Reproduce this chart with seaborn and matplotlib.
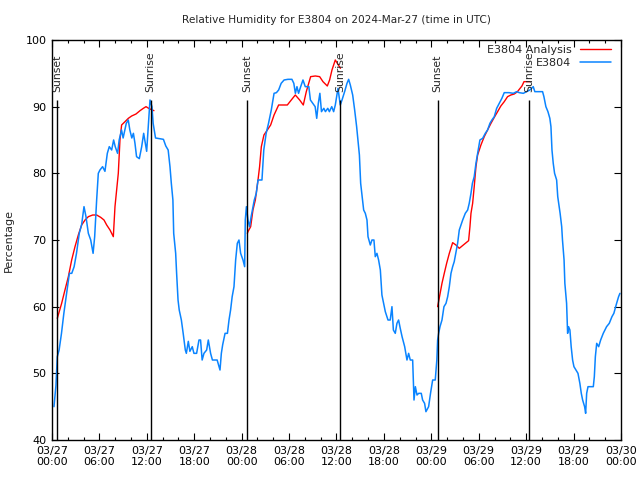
import numpy as np
import pandas as pd
import matplotlib as mpl
mpl.use("Agg")
import matplotlib.pyplot as plt
import matplotlib.dates as mdates
from matplotlib.lines import Line2D
import seaborn as sns

# hours after 2024-03-27 00:00 UTC and relative humidity (%)
obs_hours = [0.25, 0.5, 0.67, 0.9, 1.2, 1.5, 1.85, 2.2, 2.5, 2.8, 3.1, 3.45, 3.75, 4.05, 4.3, 4.6,
             4.9, 5.2, 5.4, 5.65, 5.86, 6.07, 6.4, 6.7, 7.0, 7.25, 7.55, 7.8, 8.0, 8.3, 8.5, 8.8,
             9.0, 9.4, 9.65, 9.85, 10.1, 10.3, 10.5, 10.7, 11.05, 11.35, 11.6, 11.98, 12.15, 12.4,
             12.65, 12.8, 13.1, 14.1, 14.4, 14.7, 14.93, 15.1, 15.3, 15.4, 15.65, 15.77, 15.95,
             16.1, 16.37, 16.6, 16.87, 17.0, 17.25, 17.45, 17.75, 17.96, 18.3, 18.6, 18.8, 19.0,
             19.23, 19.57, 19.78, 20.07, 20.3, 20.9, 21.26, 21.43, 21.6, 21.9, 22.2, 22.4, 22.6,
             22.8, 23.03, 23.24, 23.45, 23.66, 23.87, 24.17, 24.38, 24.46, 24.6, 24.8, 25.0, 25.2,
             25.6, 25.85, 26.07, 26.57, 26.8, 27.1, 27.4, 27.75, 28.1, 28.4, 28.68, 29.0, 29.37,
             29.86, 30.36, 30.6, 30.8, 31.0, 31.2, 31.47, 31.76, 32.05, 32.5, 32.7, 33.0, 33.3,
             33.5, 33.7, 33.9, 34.1, 34.4, 34.6, 34.9, 35.1, 35.4, 35.64, 35.85, 36.19, 36.48,
             36.7, 37.03, 37.33, 37.54, 37.75, 38.05, 38.3, 38.55, 38.72, 38.9, 39.06, 39.2, 39.44,
             39.65, 39.86, 39.99, 40.28, 40.49, 40.74, 40.91, 41.12, 41.33, 41.55, 41.75, 41.97,
             42.18, 42.52, 42.8, 43.02, 43.2, 43.44, 43.65, 43.86, 44.07, 44.3, 44.63, 44.92,
             45.13, 45.34, 45.64, 45.81, 45.98, 46.19, 46.4, 46.73, 46.9, 47.15, 47.32, 47.66,
             47.9, 48.17, 48.5, 48.7, 48.8, 48.93, 49.1, 49.35, 49.6, 49.86, 50.07, 50.28, 50.49,
             50.7, 50.9, 51.1, 51.33, 51.54, 51.75, 51.97, 52.3, 52.6, 52.8, 53.02, 53.2, 53.43,
             53.65, 53.86, 54.15, 54.5, 54.83, 55.12, 55.42, 55.67, 55.97, 56.27, 56.6, 56.93,
             57.23, 57.86, 58.37, 58.8, 59.13, 59.64, 60.06, 60.48, 60.9, 61.1, 61.5, 62.08, 62.25,
             62.5, 62.76, 63.0, 63.14, 63.27, 63.43, 63.6, 63.86, 64.0, 64.3, 64.5, 64.6, 64.8,
             64.9, 65.12, 65.25, 65.37, 65.54, 65.7, 65.88, 66.05, 66.3, 66.56, 66.8, 66.98, 67.15,
             67.4, 67.53, 67.66, 67.83, 68.5, 68.63, 68.76, 68.93, 69.18, 69.43, 69.76, 70.18,
             70.52, 70.86, 71.1, 71.45, 71.7, 71.87]
obs_rh = [45, 48.2, 52.5, 53.5, 56, 59, 62, 65, 65, 66, 68, 71, 72.3, 75, 73.5, 71,
          70, 68, 70.5, 76, 80, 80.5, 81, 80.3, 83, 84, 83.5, 85, 84, 83, 85, 86.5,
          85.3, 87.5, 88, 86.5, 85.3, 86, 84.5, 82.5, 82.2, 84, 86, 83.3, 86.5, 91,
          90, 87.5, 85.3, 85.1, 84.1, 83.5, 81, 78.5, 76, 71, 68, 65, 61,
          59.5, 58, 56, 53.5, 53, 54.8, 53.3, 54, 53, 53, 55, 55, 52,
          53, 53.5, 55, 53, 52, 52, 50.5, 53, 54.3, 56, 56, 58, 59.5,
          61.5, 63, 67, 69.5, 70, 68, 67, 66, 73, 75, 73, 72, 73.5,
          76, 77, 79, 79, 83.5, 86, 87.5, 89.5, 92, 92.1, 92.5, 93.5, 94,
          94.1, 94.1, 93.5, 92, 93, 92, 93, 94, 93, 93, 91, 90.5, 90,
          88.25, 90.5, 92, 89.25, 89.75, 89.25, 89.75, 89.25, 90, 89.25, 90.25, 92.75, 90.25,
          91, 92.25, 93.5, 94.1, 93.25, 91.75, 89.5, 87, 85, 82.75, 78.5, 77, 74.5,
          74, 73, 70.5, 69.25, 70, 70, 67.5, 68, 67, 65.5, 61.75, 60.5,
          59.25, 58, 58, 60, 56.5, 56, 57.5, 58, 56.75, 55.5, 54, 52,
          53, 52, 52, 46, 48, 46.75, 47, 47, 46, 45.5, 44.25, 45,
          47, 49, 49, 52, 55, 56, 57, 58, 60, 60.5, 61.5, 63, 65,
          66, 66.75, 68, 69.5, 71.5, 72.25, 73, 74, 74.5, 75.5, 77, 78.5, 79.5,
          81.5, 83, 85, 85.25, 86, 86.5, 87.5, 88, 88.5, 89.75, 90.5, 91.25,
          92.1, 92.1, 92, 92.25, 92.1, 92, 92.25, 92.5, 93, 92.25, 92.25, 92.25, 91.5,
          90, 89.25, 88.25, 87, 83.5, 81.5, 80, 79, 76.5, 74, 72, 70, 67,
          63.5, 60.5, 56, 57, 56.5, 54, 52, 51, 50.5, 50, 48.5, 47, 46,
          45, 44, 47, 48, 48, 49.5, 52.5, 54.5, 54, 55, 56, 57,
          57.5, 58.5, 59, 60.5, 61.5, 62]

ana_hours = [0.67, 1.22, 1.64, 2.07, 2.49, 2.91, 3.33, 3.75, 4.18, 4.6, 5.15, 5.65, 6.16, 6.58,
             6.92, 7.34, 7.76, 7.97, 8.18, 8.39, 8.6, 8.81, 9.24, 9.66, 10.08, 10.63, 11.14,
             11.56, 11.9, 12.3, 12.9,
             24.72, 24.8, 25.14, 25.43, 25.73, 26.07, 26.27, 26.49, 26.82, 27.25, 27.67, 28.1,
             28.68, 29.78, 30.28, 30.79, 31.34, 31.8, 32.18, 32.73, 33.32, 33.87, 34.29, 34.84,
             35.13, 35.43, 35.85, 36.5,
             48.8, 49.0, 49.35, 49.64, 49.94, 50.28, 50.7, 51.12, 51.54, 52.05, 52.72, 52.89,
             53.02, 53.23, 53.43, 53.65, 53.86, 54.28, 54.7, 55.12, 55.55, 55.97, 56.39, 56.8,
             57.23, 57.65, 58.07, 58.5, 58.9, 59.47, 59.73, 60.48]
ana_rh = [58.25, 60.5, 62.5, 64.5, 67, 69, 70.75, 72.25, 73, 73.5, 73.75, 73.75, 73.4, 73,
          72.25, 71.5, 70.5, 75, 77.5, 80, 85, 87.25, 87.75, 88.25, 88.6, 88.9, 89.4,
          89.75, 90, 89.7, 89.4,
          71.0, 71.25, 72, 74.5, 76, 79, 81, 84, 85.75, 86.5, 87.25, 88.75,
          90.25, 90.25, 91, 91.75, 91, 90.25, 92.25, 94.5, 94.6, 94.5, 93.75, 93.1,
          94, 95.5, 97, 95.75,
          60, 61.25, 63.5, 65, 66.5, 68, 69.6, 69.25, 68.75, 69.25, 69.9, 72,
          74, 75.5, 78, 81, 82.75, 84.25, 85.5, 86.5, 87.5, 88.4, 89.25, 90.1,
          90.75, 91.5, 91.75, 91.9, 92.25, 93.1, 93.75, 93.75]
ana_seg = [0] * 31 + [1] * 28 + [2] * 32

sun_hours = [0.67, 12.48, 24.72, 36.48, 48.8, 60.4]
sun_labels = ["Sunset", "Sunrise", "Sunset", "Sunrise", "Sunset", "Sunrise"]

base = pd.Timestamp("2024-03-27 00:00")
obs = pd.DataFrame({"time": base + pd.to_timedelta(obs_hours, unit="h"), "rh": obs_rh})
ana = pd.DataFrame({"time": base + pd.to_timedelta(ana_hours, unit="h"), "rh": ana_rh, "seg": ana_seg})
sun_t = base + pd.to_timedelta(sun_hours, unit="h")

sns.set_style("ticks")
plt.rcParams["font.family"] = ["DejaVu Sans"]
plt.rcParams["font.size"] = 8

fig = plt.figure(figsize=(6.4, 4.8), dpi=100)
ax = fig.add_axes([0.08125, 0.0833, 0.889, 0.8334])

sns.lineplot(data=ana, x="time", y="rh", units="seg", estimator=None, color="#ff0000", lw=1.0, ax=ax)
sns.lineplot(data=obs, x="time", y="rh", color="#0a84ff", lw=1.1, ax=ax)

ax.vlines(sun_t, 40, 91, color="black", lw=1.0)
for t, s in zip(sun_t, sun_labels):
    ax.text(t, 92.2, s, rotation=90, ha="center", va="bottom", fontsize=7.8)

ax.set_xlim(base, base + pd.Timedelta(days=3))
ax.set_ylim(40, 100)
ax.set_yticks(np.arange(40, 101, 10))
ax.xaxis.set_major_locator(mdates.HourLocator(byhour=[0, 6, 12, 18]))
ax.xaxis.set_minor_locator(mdates.HourLocator(interval=2))
ax.xaxis.set_major_formatter(mdates.DateFormatter("%m/%d\n%H:%M"))
ax.tick_params(which="both", direction="in", top=True, right=True, width=0.8, labelsize=8, colors="black")
ax.tick_params(which="major", length=5, pad=4)
ax.tick_params(which="minor", length=2.5)
for sp in ax.spines.values():
    sp.set_linewidth(1.0)
    sp.set_color("black")

ax.set_xlabel("")
ax.set_ylabel("Percentage", fontsize=8, labelpad=8)
ax.set_title("Relative Humidity for E3804 on 2024-Mar-27 (time in UTC)", fontsize=7.6, pad=12)

handles = [Line2D([], [], color="#ff0000", lw=1.0), Line2D([], [], color="#0a84ff", lw=1.1)]
ax.legend(handles, ["E3804 Analysis", "E3804"], loc="upper right", frameon=False, markerfirst=False,
          fontsize=8, handlelength=2.8, handletextpad=0.8, labelspacing=0.3,
          borderaxespad=0.2, bbox_to_anchor=(0.995, 1.005))

fig.savefig("out.png", dpi=100)
